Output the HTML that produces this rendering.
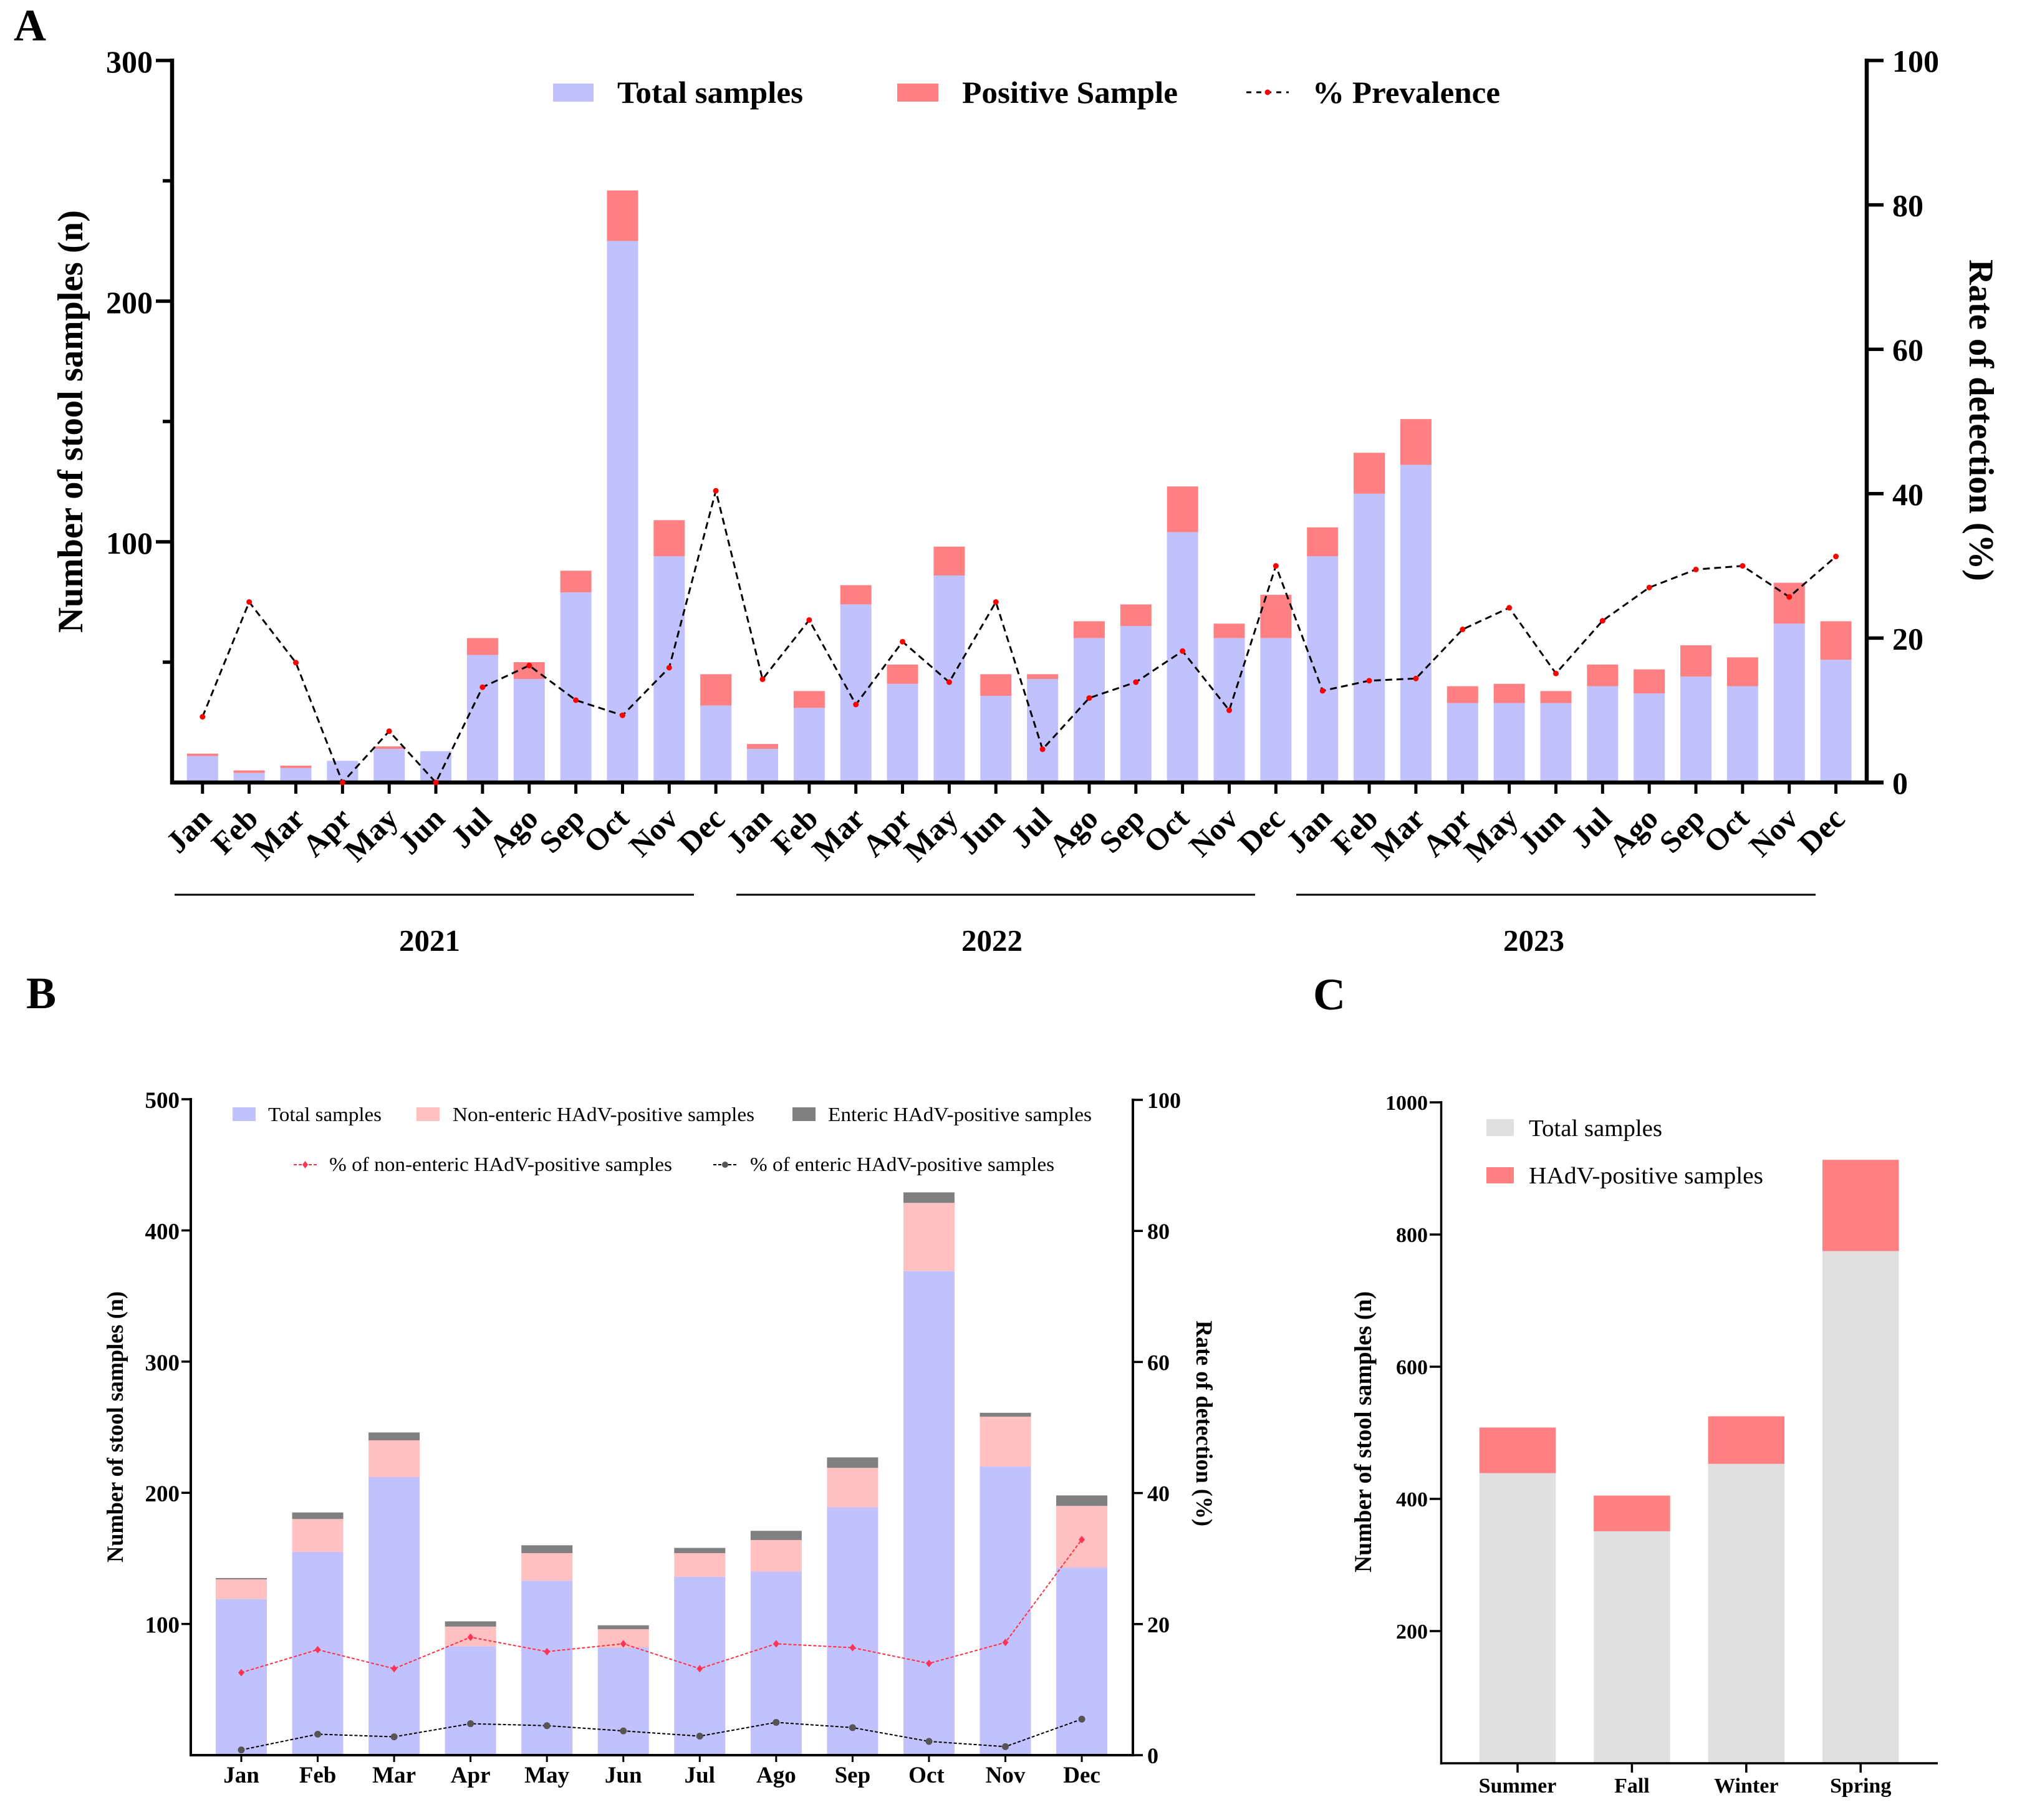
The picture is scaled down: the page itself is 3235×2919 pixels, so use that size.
<!DOCTYPE html>
<html lang="en">
<head>
<meta charset="utf-8">
<title>HAdV detection charts</title>
<style>
html,body{margin:0;padding:0;background:#fff}
svg{display:block}
text{font-family:"Liberation Serif",serif;fill:#000}
.b{font-weight:bold}
</style>
</head>
<body>
<svg id="fig" xmlns="http://www.w3.org/2000/svg" width="3235" height="2919" viewBox="0 0 3235 2919">
<rect width="3235" height="2919" fill="#fff"/>
<text class="b" x="22" y="65" font-size="72">A</text>
<text class="b" x="42" y="1617" font-size="72">B</text>
<text class="b" x="2106" y="1619" font-size="72">C</text>

<g id="panelA"></g>
<g id="panelB"></g>
<g id="panelC"></g>

<g>
<text class="b" font-size="57" transform="translate(132 1015) rotate(-90)" textLength="678" lengthAdjust="spacingAndGlyphs">Number of stool samples (n)</text>
<text class="b" font-size="56" transform="translate(3159 416) rotate(90)" textLength="516" lengthAdjust="spacingAndGlyphs">Rate of detection (%)</text>
<rect x="887" y="134" width="65" height="29" fill="#c1c1fd"/>
<text class="b" x="990" y="165" font-size="50" textLength="298" lengthAdjust="spacingAndGlyphs">Total samples</text>
<rect x="1439" y="134" width="66" height="29" fill="#ff8082"/>
<text class="b" x="1543" y="165" font-size="50" textLength="346" lengthAdjust="spacingAndGlyphs">Positive Sample</text>
<line x1="1999" y1="148" x2="2067" y2="148" stroke="#000" stroke-width="3" stroke-dasharray="8 8"/>
<circle cx="2033" cy="148" r="4.5" fill="#f00"/>
<text class="b" x="2105" y="165" font-size="50" textLength="301" lengthAdjust="spacingAndGlyphs">% Prevalence</text>
<line x1="280" y1="1435" x2="1113" y2="1435" stroke="#000" stroke-width="3"/>
<line x1="1181" y1="1435" x2="2013" y2="1435" stroke="#000" stroke-width="3"/>
<line x1="2079" y1="1435" x2="2912" y2="1435" stroke="#000" stroke-width="3"/>
<text class="b" x="689" y="1525" font-size="49" text-anchor="middle">2021</text>
<text class="b" x="1591" y="1525" font-size="49" text-anchor="middle">2022</text>
<text class="b" x="2460" y="1525" font-size="49" text-anchor="middle">2023</text>
</g>

<g>
<text class="b" font-size="37" transform="translate(197 2506) rotate(-90)" textLength="435" lengthAdjust="spacingAndGlyphs">Number of stool samples (n)</text>
<text class="b" font-size="37" transform="translate(1919 2118) rotate(90)" textLength="330" lengthAdjust="spacingAndGlyphs">Rate of detection (%)</text>
<rect x="373" y="1776" width="37" height="22" fill="#c1c1fd"/>
<text x="430" y="1798" font-size="32" textLength="182" lengthAdjust="spacingAndGlyphs">Total samples</text>
<rect x="668" y="1776" width="37" height="22" fill="#ffc0c1"/>
<text x="726" y="1798" font-size="32" textLength="484" lengthAdjust="spacingAndGlyphs">Non-enteric HAdV-positive samples</text>
<rect x="1271" y="1776" width="37" height="22" fill="#808080"/>
<text x="1328" y="1798" font-size="32" textLength="423" lengthAdjust="spacingAndGlyphs">Enteric HAdV-positive samples</text>
<line x1="471" y1="1868" x2="508" y2="1868" stroke="#ff3040" stroke-width="2" stroke-dasharray="5 3"/>
<path d="M489.5 1862l4.5 6-4.5 6-4.5-6z" fill="#ff3355"/>
<text x="528" y="1878" font-size="32" textLength="550" lengthAdjust="spacingAndGlyphs">% of non-enteric HAdV-positive samples</text>
<line x1="1144" y1="1868" x2="1182" y2="1868" stroke="#000" stroke-width="2" stroke-dasharray="5 3"/>
<circle cx="1163" cy="1868" r="5" fill="#555"/>
<text x="1203" y="1878" font-size="32" textLength="488" lengthAdjust="spacingAndGlyphs">% of enteric HAdV-positive samples</text>
</g>

<g>
<text class="b" font-size="39" transform="translate(2199 2522) rotate(-90)" textLength="451" lengthAdjust="spacingAndGlyphs">Number of stool samples (n)</text>
<rect x="2384" y="1795" width="44" height="27" fill="#e0e0e0"/>
<text x="2452" y="1822" font-size="38" textLength="214" lengthAdjust="spacingAndGlyphs">Total samples</text>
<rect x="2384" y="1872" width="44" height="26" fill="#ff8082"/>
<text x="2452" y="1898" font-size="38" textLength="376" lengthAdjust="spacingAndGlyphs">HAdV-positive samples</text>
</g>
</svg>

<script>
// ---------- Panel A data ----------
const monthNames = ["Jan","Feb","Mar","Apr","May","Jun","Jul","Ago","Sep","Oct","Nov","Dec"];
const monthNamesA = monthNames.concat(monthNames, monthNames);
const totalA = [11,4,6,9,14,13,53,43,79,225,94,32, 14,31,74,41,86,36,43,60,65,104,60,60, 94,120,132,33,33,33,40,37,44,40,66,51];
const positiveA = [1,1,1,0,1,0,7,7,9,21,15,13, 2,7,8,8,12,9,2,7,9,19,6,18, 12,17,19,7,8,5,9,10,13,12,17,16];
const prevalenceA = [9.1,25,16.6,0,7.1,0,13.2,16.2,11.4,9.3,15.9,40.4, 14.3,22.5,10.8,19.5,13.9,25,4.6,11.7,13.9,18.2,10,30, 12.7,14.1,14.4,21.2,24.2,15.1,22.4,27,29.5,30,25.7,31.3];
const leftMajorA = [100,200,300];
const leftMinorA = [50,150,250];
const rightTicksA = [0,20,40,60,80,100];

// ---------- Panel B data ----------
const totalB = [119,155,212,83,133,82,136,140,189,369,220,143];
const nonEntericB = [15,25,28,15,21,14,18,24,30,52,38,47];
const entericB = [1,5,6,4,6,3,4,7,8,8,3,8];
const nonEntericRateB = [12.6,16.1,13.2,18,15.8,17,13.2,17,16.4,14,17.2,32.9];
const entericRateB = [0.8,3.2,2.8,4.8,4.5,3.7,2.9,5,4.2,2.1,1.3,5.5];
const leftTicksB = [100,200,300,400,500];
const rightTicksB = [0,20,40,60,80,100];

// ---------- Panel C data ----------
const seasonsC = ["Summer","Fall","Winter","Spring"];
const totalC = [439,351,453,775];
const positiveC = [69,54,72,138];
const ticksC = [200,400,600,800,1000];

// ---------- helpers ----------
const NS = "http://www.w3.org/2000/svg";
function add(parent, tag, attrs, txt) {
  const el = document.createElementNS(NS, tag);
  for (const k in attrs) el.setAttribute(k, attrs[k]);
  if (txt !== undefined) el.textContent = txt;
  parent.appendChild(el);
  return el;
}
function scale(d0, d1, r0, r1) { return v => r0 + (v - d0) * (r1 - r0) / (d1 - d0); }
const BOLD = "bold";

// ---------- Panel A ----------
(function () {
  const g = document.getElementById("panelA");
  const x = i => 324.8 + i * 74.85;
  const y = scale(0, 300, 1255, 97);
  const yR = scale(0, 100, 1255, 97);
  const w = 50;
  totalA.forEach((v, i) => {
    const b = add(g, "rect", {x: x(i) - w / 2, y: y(v), width: w, height: y(0) - y(v), fill: "#c1c1fd"});
    
    
    if (positiveA[i] > 0) {
      const p = add(g, "rect", {x: x(i) - w / 2, y: y(v + positiveA[i]), width: w, height: y(v) - y(v + positiveA[i]), fill: "#ff8082"});
      
      
    }
  });
  // axes
  const axes = add(g, "path", {d: `M276 94V1258M273 1255H3021M2994 94V1258`, fill: "none", stroke: "#000", "stroke-width": 6.5});
  
  
  leftMajorA.forEach(v => {
    const t = add(g, "line", {x1: 250, x2: 276, y1: y(v), y2: y(v), stroke: "#000", "stroke-width": 5.5});
    
    
    const l = add(g, "text", {x: 245, y: y(v) + 19, "font-size": 50, "font-weight": BOLD, "text-anchor": "end"}, v);
    
    
  });
  leftMinorA.forEach(v => {
    const t = add(g, "line", {x1: 261, x2: 276, y1: y(v), y2: y(v), stroke: "#000", "stroke-width": 5.5});
    
    
  });
  rightTicksA.forEach(v => {
    const t = add(g, "line", {x1: 2994, x2: 3021, y1: yR(v), y2: yR(v), stroke: "#000", "stroke-width": 5.5});
    
    
    const l = add(g, "text", {x: 3035, y: yR(v) + 18, "font-size": 50, "font-weight": BOLD}, v);
    
    
  });
  monthNamesA.forEach((m, i) => {
    const t = add(g, "line", {x1: x(i), x2: x(i), y1: 1255, y2: 1273, stroke: "#000", "stroke-width": 5});
    
    
    const ax = x(i) + (m === "Oct" ? 13 : 17);
    const l = add(g, "text", {x: ax, y: 1316, "font-size": 50, "font-weight": BOLD, "text-anchor": "end", transform: `rotate(-45 ${ax} 1316)`}, m);
    
    
  });
  const line = add(g, "polyline", {points: prevalenceA.map((v, i) => x(i) + "," + yR(v)).join(" "), fill: "none", stroke: "#000", "stroke-width": 3, "stroke-dasharray": "11 7"});
  
  
  prevalenceA.forEach((v, i) => {
    const c = add(g, "circle", {cx: x(i), cy: yR(v), r: 4.5, fill: "#f00"});
    
    
  });
})();

// ---------- Panel B ----------
(function () {
  const g = document.getElementById("panelB");
  const x = i => 387 + i * 122.55;
  const y = scale(0, 500, 2815, 1763);
  const yR = scale(0, 100, 2815, 1764);
  const w = 82;
  totalB.forEach((v, i) => {
    const n = v + nonEntericB[i], e = n + entericB[i];
    const a = add(g, "rect", {x: x(i) - w / 2, y: y(v), width: w, height: y(0) - y(v), fill: "#c1c1fd"});
    
    
    const b = add(g, "rect", {x: x(i) - w / 2, y: y(n), width: w, height: y(v) - y(n), fill: "#ffc0c1"});
    
    
    const c = add(g, "rect", {x: x(i) - w / 2, y: y(e), width: w, height: y(n) - y(e), fill: "#808080"});
    
    
  });
  const axes = add(g, "path", {d: `M306 1761V2817M304 2815H1819M1817 1762V2817`, fill: "none", stroke: "#000", "stroke-width": 4});
  
  
  leftTicksB.forEach(v => {
    const t = add(g, "line", {x1: 291, x2: 306, y1: y(v), y2: y(v), stroke: "#000", "stroke-width": 3.5});
    
    
    const l = add(g, "text", {x: 288, y: y(v) + 14, "font-size": 37, "font-weight": BOLD, "text-anchor": "end"}, v);
    
    
  });
  rightTicksB.forEach(v => {
    const t = add(g, "line", {x1: 1817, x2: 1833, y1: yR(v), y2: yR(v), stroke: "#000", "stroke-width": 3.5});
    
    
    const l = add(g, "text", {x: 1840, y: yR(v) + 13, "font-size": 36, "font-weight": BOLD}, v);
    
    
  });
  monthNames.forEach((m, i) => {
    const t = add(g, "line", {x1: x(i), x2: x(i), y1: 2815, y2: 2826, stroke: "#000", "stroke-width": 3});
    
    
    const l = add(g, "text", {x: x(i) - (m === "Oct" ? 4 : 0), y: 2859, "font-size": 37, "font-weight": BOLD, "text-anchor": "middle"}, m);
    
    
  });
  const redLine = add(g, "polyline", {points: nonEntericRateB.map((v, i) => x(i) + "," + yR(v)).join(" "), fill: "none", stroke: "#ff3040", "stroke-width": 2, "stroke-dasharray": "5 3"});
  
  
  const blackLine = add(g, "polyline", {points: entericRateB.map((v, i) => x(i) + "," + yR(v)).join(" "), fill: "none", stroke: "#000", "stroke-width": 2, "stroke-dasharray": "5 3"});
  
  
  nonEntericRateB.forEach((v, i) => {
    const cx = x(i), cy = yR(v);
    const d = add(g, "path", {d: `M${cx} ${cy - 6}l5 6-5 6-5-6z`, fill: "#ff3355"});
    
    
  });
  entericRateB.forEach((v, i) => {
    const c = add(g, "circle", {cx: x(i), cy: yR(v), r: 5.5, fill: "#555"});
    
    
  });
})();

// ---------- Panel C ----------
(function () {
  const g = document.getElementById("panelC");
  const x = i => 2434 + i * 183.4;
  const y = scale(0, 1000, 2828, 1768);
  const w = 122.5;
  totalC.forEach((v, i) => {
    const a = add(g, "rect", {x: x(i) - w / 2, y: y(v), width: w, height: y(0) - y(v), fill: "#e0e0e0"});
    
    
    const top = v + positiveC[i];
    const b = add(g, "rect", {x: x(i) - w / 2, y: y(top), width: w, height: y(v) - y(top), fill: "#ff8082"});
    
    
  });
  const axes = add(g, "path", {d: `M2311.5 1766V2830M2310 2828H3108`, fill: "none", stroke: "#000", "stroke-width": 3.5});
  
  
  ticksC.forEach(v => {
    const t = add(g, "line", {x1: 2293, x2: 2311, y1: y(v), y2: y(v), stroke: "#000", "stroke-width": 3.5});
    
    
    const l = add(g, "text", {x: 2290, y: y(v) + 12, "font-size": 34, "font-weight": BOLD, "text-anchor": "end"}, v);
    
    
  });
  seasonsC.forEach((s, i) => {
    const t = add(g, "line", {x1: x(i), x2: x(i), y1: 2828, y2: 2843, stroke: "#000", "stroke-width": 3.5});
    
    
    const l = add(g, "text", {x: x(i), y: 2875, "font-size": 34, "font-weight": BOLD, "text-anchor": "middle"}, s);
    
    
  });
})();
</script>
</body>
</html>
